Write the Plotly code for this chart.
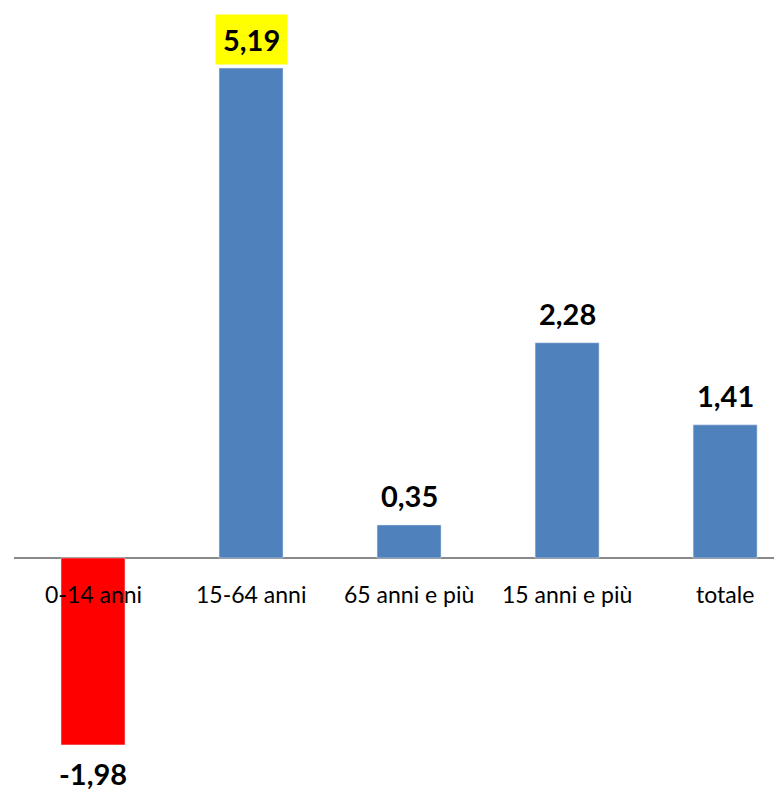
import plotly.graph_objects as go

categories = ["0-14 anni", "15-64 anni", "65 anni e più", "15 anni e più", "totale"]
values = [-1.98, 5.19, 0.35, 2.28, 1.41]
labels = ["-1,98", "5,19", "0,35", "2,28", "1,41"]
colors = ["#FF0000", "#4F81BD", "#4F81BD", "#4F81BD", "#4F81BD"]

xs = list(range(len(categories)))
fig = go.Figure()
fig.add_trace(go.Bar(x=xs, y=values, marker_color=colors, width=0.405, hoverinfo="skip"))

font = "Lato, Carlito, 'Open Sans', sans-serif"
ann = []
for i, (c, v, l) in enumerate(zip(categories, values, labels)):
    ann.append(dict(x=i, y=0, text=c, showarrow=False, yanchor="middle", yshift=-36,
                    font=dict(family=font, size=23, color="#000")))
    ann.append(dict(x=i, y=v, text="<b>%s</b>" % l, showarrow=False,
                    yanchor="middle",
                    yshift=29 if v >= 0 else -29,
                    bgcolor="#FFFF00" if i == 1 else None,
                    borderpad=7 if i == 1 else 0,
                    font=dict(family=font, size=29, color="#000")))
fig.update_layout(
    width=774, height=784, margin=dict(l=6, r=0, t=0, b=0),
    plot_bgcolor="white", paper_bgcolor="white", showlegend=False,
    xaxis=dict(range=[-0.5, 4.36], showticklabels=False, showgrid=False, zeroline=False, showline=False),
    yaxis=dict(range=[-2.479, 5.826], showticklabels=False, showgrid=False,
               zeroline=True, zerolinecolor="#898989", zerolinewidth=2, showline=False),
    annotations=ann,
)
fig.write_html("out.html")
